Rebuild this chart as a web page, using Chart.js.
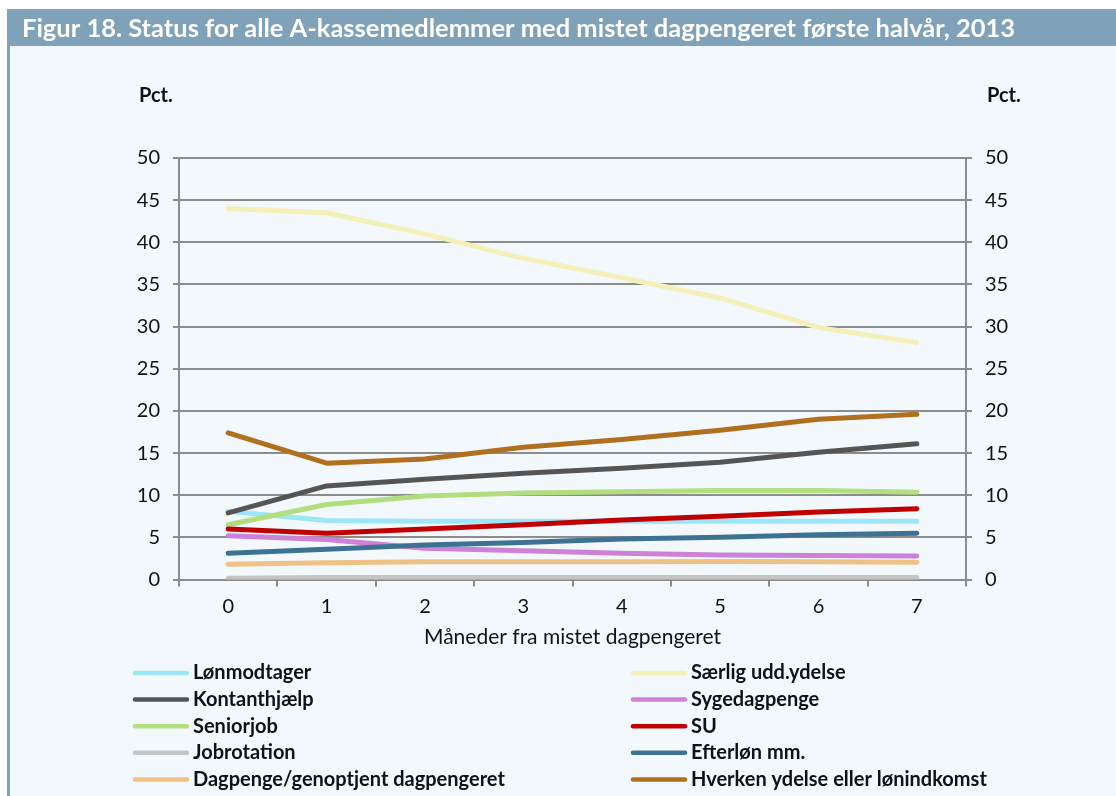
<!DOCTYPE html>
<html>
<head>
<meta charset="utf-8">
<script src="https://cdn.jsdelivr.net/npm/chart.js@4.4.1/dist/chart.umd.min.js"></script>
<style>
  html, body { margin: 0; padding: 0; background: #fff; }
  canvas { display: block; }
</style>
</head>
<body>
<canvas id="chart" width="1116" height="796"></canvas>
<script>
// months since losing the right to unemployment benefit
const months = ['0', '1', '2', '3', '4', '5', '6', '7'];

// percent of members per status
const lonmodtager   = [8.1, 7.0, 6.9, 6.9, 6.9, 6.9, 6.9, 6.9];
const saerlig       = [44.0, 43.5, 41.0, 38.1, 35.8, 33.4, 29.9, 28.1];
const kontanthjaelp = [7.9, 11.1, 11.9, 12.6, 13.2, 13.9, 15.1, 16.1];
const sygedagpenge  = [5.2, 4.75, 3.7, 3.4, 3.1, 2.9, 2.85, 2.8];
const seniorjob     = [6.5, 8.9, 9.9, 10.25, 10.4, 10.55, 10.55, 10.35];
const su            = [6.0, 5.5, 6.0, 6.5, 7.05, 7.5, 8.0, 8.4];
const jobrotation   = [0.15, 0.25, 0.25, 0.25, 0.25, 0.25, 0.25, 0.25];
const efterlon      = [3.1, 3.6, 4.1, 4.4, 4.8, 5.0, 5.3, 5.5];
const dagpenge      = [1.8, 2.0, 2.1, 2.1, 2.1, 2.15, 2.1, 2.05];
const hverken       = [17.4, 13.8, 14.3, 15.7, 16.6, 17.7, 19.0, 19.6];

const seriesNames = ['Lønmodtager', 'Særlig udd.ydelse', 'Kontanthjælp', 'Sygedagpenge', 'Seniorjob',
  'SU', 'Jobrotation', 'Efterløn mm.', 'Dagpenge/genoptjent dagpengeret', 'Hverken ydelse eller lønindkomst'];
const seriesData = [lonmodtager, saerlig, kontanthjaelp, sygedagpenge, seniorjob,
  su, jobrotation, efterlon, dagpenge, hverken];
const seriesColors = ['#9de6f8', '#f3f1b9', '#555555', '#cd82d8', '#b2de80',
  '#c00000', '#c5c5c5', '#3e7292', '#f0c184', '#b0701f'];

const TITLE = 'Figur 18. Status for alle A-kassemedlemmer med mistet dagpengeret første halvår, 2013';
const FONT = 'Lato, "Open Sans", sans-serif';
const AXIS_GREY = '#8c8c8c';

const framePlugin = {
  id: 'frame',
  beforeDraw(chart) {
    const ctx = chart.ctx;
    ctx.save();
    ctx.fillStyle = '#ffffff';
    ctx.fillRect(0, 0, 1116, 796);
    // panel
    ctx.fillStyle = '#7fa2b8';
    ctx.fillRect(7, 9, 1109, 787);
    ctx.fillStyle = '#f3f8fc';
    ctx.fillRect(10, 46, 1106, 750);
    // title
    ctx.fillStyle = '#ffffff';
    ctx.font = 'bold 25.5px ' + FONT;
    ctx.textBaseline = 'alphabetic';
    ctx.fillText(TITLE, 22, 37, 993);
    ctx.restore();
  },
  afterDraw(chart) {
    const ctx = chart.ctx;
    const area = chart.chartArea;
    ctx.save();
    ctx.fillStyle = '#111';
    ctx.textBaseline = 'middle';
    ctx.font = 'bold 20px ' + FONT;
    ctx.fillText('Pct.', 139, 96);
    ctx.fillText('Pct.', 987, 96);

    ctx.font = '21px ' + FONT;
    ctx.textAlign = 'center';
    ctx.fillText('Måneder fra mistet dagpengeret', (area.left + area.right) / 2, 637);

    // legend, two columns filled row by row
    ctx.textAlign = 'left';
    ctx.font = 'bold 20px ' + FONT;
    ctx.lineCap = 'round';
    ctx.lineWidth = 4.5;
    chart.data.datasets.forEach((ds, i) => {
      const col = i % 2;
      const row = Math.floor(i / 2);
      const x0 = col === 0 ? 135 : 633;
      const y = 673 + row * 26.6;
      ctx.strokeStyle = ds.borderColor;
      ctx.beginPath();
      ctx.moveTo(x0, y);
      ctx.lineTo(x0 + 52, y);
      ctx.stroke();
      ctx.fillStyle = '#111';
      ctx.fillText(ds.label, x0 + 58, y);
    });
    ctx.restore();
  }
};

const tickFont = { family: FONT, size: 20 };

new Chart(document.getElementById('chart'), {
  type: 'line',
  data: {
    labels: months,
    datasets: seriesNames.map((name, i) => ({
      label: name,
      data: seriesData[i],
      borderColor: seriesColors[i],
      backgroundColor: seriesColors[i],
      borderWidth: 5,
      borderCapStyle: 'round',
      borderJoinStyle: 'round',
      pointRadius: 0,
      tension: 0,
      order: seriesNames.length - i
    }))
  },
  options: {
    responsive: false,
    animation: false,
    events: [],
    layout: { padding: { top: 158, left: 0, right: 0, bottom: 0 } },
    plugins: { legend: { display: false }, tooltip: { enabled: false } },
    scales: {
      x: {
        offset: true,
        grid: { drawOnChartArea: false, drawTicks: true, tickLength: 7, color: AXIS_GREY, lineWidth: 2, offset: true },
        border: { display: true, color: AXIS_GREY, width: 2 },
        ticks: { font: tickFont, color: '#111', padding: 8, maxRotation: 0 },
        afterFit(s) { s.height = 796 - 579.5; }
      },
      y: {
        position: 'left',
        min: 0,
        max: 50,
        grid: { color: AXIS_GREY, lineWidth: 2, tickLength: 6 },
        border: { display: true, color: AXIS_GREY, width: 2 },
        ticks: { stepSize: 5, font: tickFont, color: '#111', padding: 13 },
        afterFit(s) { s.width = 179; }
      },
      y2: {
        position: 'right',
        min: 0,
        max: 50,
        grid: { drawOnChartArea: false, color: AXIS_GREY, lineWidth: 2, tickLength: 6 },
        border: { display: true, color: AXIS_GREY, width: 2 },
        ticks: { stepSize: 5, font: tickFont, color: '#111', padding: 13 },
        afterFit(s) { s.width = 1116 - 966; }
      }
    }
  },
  plugins: [framePlugin]
});
</script>
</body>
</html>
